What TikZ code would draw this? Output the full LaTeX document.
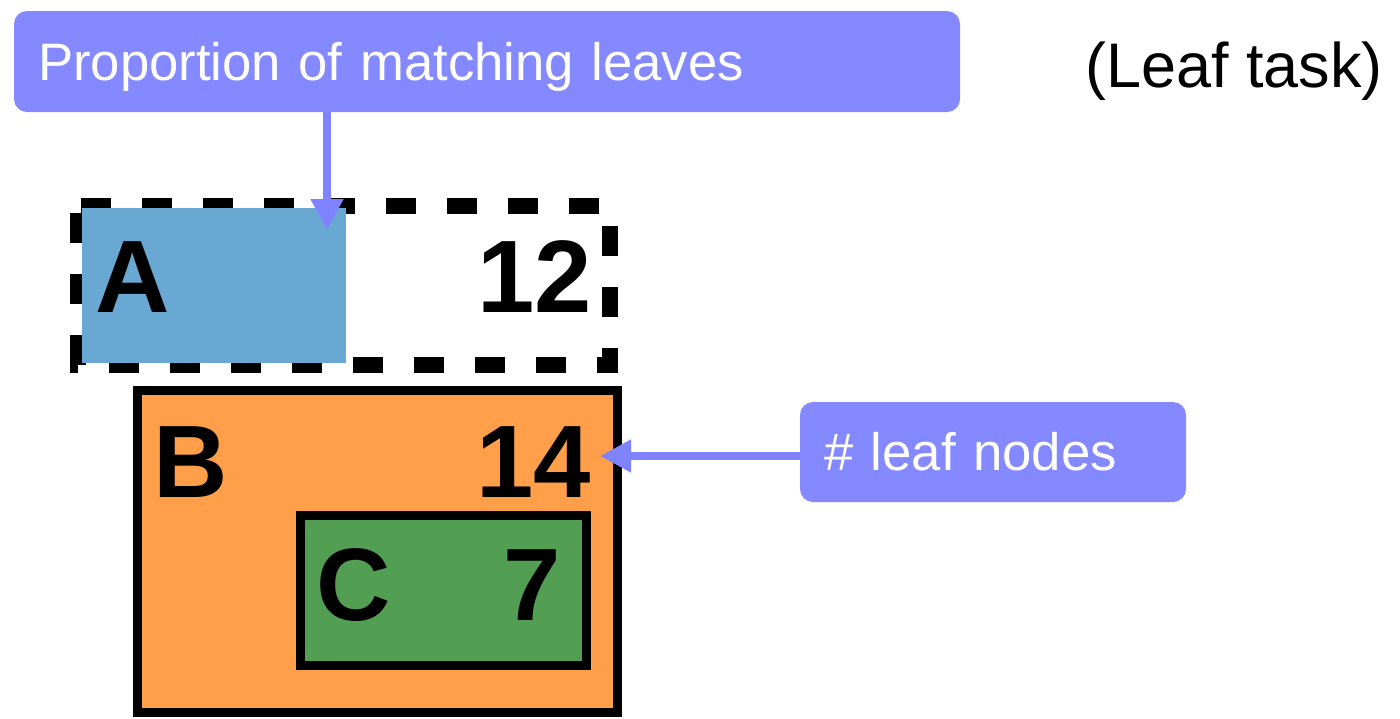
\documentclass[tikz,border=0pt]{standalone}
\usepackage{fontspec}
\setmainfont{Liberation Sans}
\usetikzlibrary{arrows.meta}
\definecolor{LeafBlue}{HTML}{6AA8D4}
\definecolor{LeafOrange}{HTML}{FF9F4A}
\definecolor{LeafGreen}{HTML}{529E52}
\definecolor{NoteFill}{HTML}{8589FF}
\definecolor{NoteArrow}{HTML}{7F83FF}
\tikzset{
  notebox/.style={fill=NoteFill,rounded corners=13pt,text=white,align=left,inner xsep=24pt,inner ysep=0pt,text height=37pt,text depth=0pt,font=\fontsize{52.7}{60}\selectfont},
  pointer/.style={-{Triangle[length=31pt,width=31pt]},line width=8pt,draw=NoteArrow},
  treebox/.style={draw=black,line width=9pt,inner sep=0pt,outer sep=0pt},
  matchbar/.style={fill=LeafBlue,inner sep=0pt,outer sep=0pt},
  lostbox/.style={draw=black,line width=16pt,dash pattern=on 30pt off 31pt,dash phase=58pt},
  boxlabel/.style={inner sep=0pt,font=\fontsize{103}{103}\selectfont\bfseries}
}

\begin{document}
\begin{tikzpicture}[x=1pt,y=-1pt]
  \useasboundingbox (0,0) rectangle (1400,718);
  \node[notebox,text width=898pt,minimum height=101pt] (propnote) at (487,61.5) {Proportion of matching leaves};
  \node[anchor=base west,inner sep=0pt,font=\fontsize{63}{70}\selectfont] (tasktitle) at (1085,87) {(Leaf task)};
  \node[notebox,text width=338pt,minimum height=100pt] (leafnote) at (993,452) {\# leaf nodes};

  \draw[lostbox] (78,206) -- (610,206) -- (610,365) -- (78,365) -- cycle;
  \node[matchbar,minimum width=264pt,minimum height=155pt] (matchA) at (214,285.5) {};
  \node[treebox,fill=LeafOrange,minimum width=480pt,minimum height=322pt] (boxB) at (377,551) {};
  \node[treebox,fill=LeafGreen,minimum width=286pt,minimum height=150pt] (boxC) at (443,590) {};

  \node[boxlabel,anchor=base west] (nameA) at (95,312) {A};
  \node[boxlabel,anchor=base east] (countA) at (592,312) {12};
  \node[boxlabel,anchor=base west] (nameB) at (153,497) {B};
  \node[boxlabel,anchor=base east] (countB) at (591,497) {14};
  \node[boxlabel,anchor=base west] (nameC) at (316,620) {C};
  \node[boxlabel,anchor=base east] (countC) at (561,620) {7};

  \coordinate (propTip) at (327,230);
  \coordinate (leafTip) at (600,456);
  \draw[pointer] (propnote.south -| propTip) -- (propTip);
  \draw[pointer] (leafnote.west |- leafTip) -- (leafTip);
\end{tikzpicture}
\end{document}
